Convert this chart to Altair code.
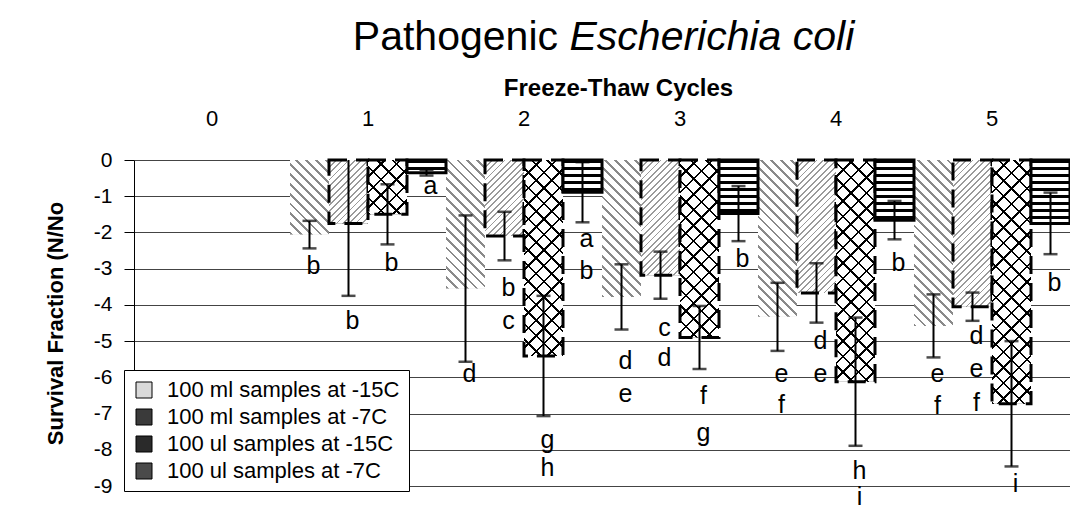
import math
import altair as alt
import pandas as pd

# ---------------- data ----------------
all_cycles = ["0", "1", "2", "3", "4", "5"]
cycles = ["1", "2", "3", "4", "5"]
series_names = [
    "100 ml samples at -15C",
    "100 ml samples at -7C",
    "100 ul samples at -15C",
    "100 ul samples at -7C",
]
mean_ml_15 = [-2.06, -3.55, -3.78, -4.33, -4.58]
err_ml_15 = [0.38, 2.02, 0.90, 0.94, 0.87]
mean_ml_7 = [-1.75, -2.10, -3.18, -3.67, -4.05]
err_ml_7 = [2.00, 0.67, 0.65, 0.82, 0.39]
mean_ul_15 = [-1.50, -5.41, -4.90, -6.12, -6.73]
err_ul_15 = [0.83, 1.66, 0.87, 1.77, 1.73]
mean_ul_7 = [-0.35, -0.89, -1.48, -1.66, -1.75]
err_ul_7 = [0.08, 0.83, 0.76, 0.53, 0.85]

# significance letters: cycle, series index, letter, vertical value
lab_cycle = ["1", "1", "1", "1",
             "2", "2", "2", "2", "2", "2", "2",
             "3", "3", "3", "3", "3", "3", "3",
             "4", "4", "4", "4", "4", "4", "4",
             "5", "5", "5", "5", "5", "5", "5"]
lab_series = [0, 1, 2, 3,
              0, 1, 1, 2, 2, 3, 3,
              0, 0, 1, 1, 2, 2, 3,
              0, 0, 1, 1, 2, 2, 3,
              0, 0, 1, 1, 1, 2, 3]
lab_text = ["b", "b", "b", "a",
            "d", "b", "c", "g", "h", "a", "b",
            "d", "e", "c", "d", "f", "g", "b",
            "e", "f", "d", "e", "h", "i", "b",
            "e", "f", "d", "e", "f", "i", "b"]
lab_y = [-2.93, -4.45, -2.83, -0.72,
         -5.92, -3.52, -4.45, -7.72, -8.49, -2.19, -3.06,
         -5.55, -6.47, -4.63, -5.46, -6.52, -7.53, -2.74,
         -5.92, -6.75, -5.00, -5.92, -8.59, -9.30, -2.83,
         -5.92, -6.80, -4.86, -5.78, -6.70, -8.95, -3.39]

title_plain = "Pathogenic"
title_italic = "Escherichia coli"
x_title = "Freeze-Thaw Cycles"
y_title = "Survival Fraction (N/No"

# ---------------- tables ----------------
means = [mean_ml_15, mean_ml_7, mean_ul_15, mean_ul_7]
errs = [err_ml_15, err_ml_7, err_ul_15, err_ul_7]
rows = []
for s, name in enumerate(series_names):
    for i, c in enumerate(cycles):
        m, e = means[s][i], errs[s][i]
        rows.append({"cycle": c, "series": name, "val": m, "lo": m - e, "hi": m + e})
df = pd.DataFrame(rows)

df_lab = pd.DataFrame({
    "cycle": lab_cycle,
    "series": [series_names[k] for k in lab_series],
    "letter": lab_text,
    "ly": lab_y,
})

# ---------------- geometry / style ----------------
PW, PH = 936, 326
BAR_W = PW / 6 / 4
HPU = PH / 9.0
FONT = "Liberation Sans, Arial"


def grad_expr(kind, S, lw, line, bg, hmax):
    h = f"(abs(datum.val)*{HPU:.5f})"
    if kind == "h":
        N = math.ceil((hmax + 4) / S)
        L = N * S
        coords = f"x1:0,y1:0,x2:0.000001,y2:{L:.3f}/{h}"
    else:
        P = S * math.sqrt(2)
        N = math.ceil((BAR_W + hmax + 4) / P)
        L = N * P
        den = f"({BAR_W * BAR_W:.2f}+{h}*{h})"
        if kind == "/":
            coords = f"x1:0,y1:0,x2:{BAR_W * L:.3f}/{den},y2:{h}*{L:.3f}/{den}"
        else:
            coords = f"x1:0,y1:1,x2:{BAR_W * L:.3f}/{den},y2:1-{h}*{L:.3f}/{den}"
    fr = lw / S
    stops = []
    for i in range(N):
        a, b, c = i / N, (i + fr) / N, (i + 1) / N
        stops += [(a, line), (b, line), (b, bg), (c, bg)]
    st = ",".join("{offset:%.5f,color:'%s'}" % (o, col) for o, col in stops)
    return "{gradient:'linear'," + coords + ",stops:[" + st + "]}"


def hmax_of(s):
    return max(abs(v) for v in means[s]) * HPU


X = alt.X(
    "cycle:N",
    scale=alt.Scale(domain=all_cycles, paddingInner=0, paddingOuter=0),
    title=x_title,
    axis=alt.Axis(orient="top", labelAngle=0, ticks=False, domain=False, grid=False,
                  labelFont=FONT, labelFontSize=22, labelColor="black", labelPadding=30,
                  titleFont=FONT, titleFontSize=24, titleFontWeight="bold", titleColor="black",
                  titlePadding=7, titleX=484),
)
XO = alt.XOffset("series:N", scale=alt.Scale(domain=series_names, paddingInner=0, paddingOuter=0))
yaxis = alt.Axis(values=list(range(-9, 1)), orient="left", domain=True, domainColor="black",
                 domainWidth=1, ticks=True, tickSize=10, tickColor="black", grid=True,
                 gridColor="#444444", gridWidth=1, labelFont=FONT, labelFontSize=21,
                 labelColor="black", labelPadding=12,
                 labelExpr="datum.value == 0 ? '0' : '-' + format(abs(datum.value), 'd')",
                 titleFont=FONT, titleFontSize=22, titleFontWeight="bold", titleColor="black",
                 titlePadding=26)
yscale = alt.Scale(domain=[-9, 0], nice=False, zero=False)


def Yf(field):
    return alt.Y(field, scale=yscale, axis=yaxis, title=y_title, stack=None)


base = alt.Chart(df)

legend_layer = base.mark_bar().encode(
    x=X, xOffset=XO, y=Yf("val:Q"),
    fill=alt.Fill("series:N",
                  scale=alt.Scale(domain=series_names,
                                  range=["#d9d9d9", "#3a3a3a", "#2a2a2a", "#4a4a4a"]),
                  legend=alt.Legend(title=None, orient="none", legendX=-10, legendY=210,
                                    direction="vertical", symbolType="square", symbolSize=256,
                                    symbolStrokeColor="black", symbolStrokeWidth=1,
                                    labelFont=FONT, labelFontSize=22, labelColor="black",
                                    labelOffset=12, labelLimit=400, rowPadding=5, padding=9,
                                    fillColor="white", strokeColor="black", zindex=1)),
)


def pattern(s, expr, **kw):
    return base.transform_filter(alt.datum.series == series_names[s]).mark_bar(
        fill=alt.ExprRef(expr=expr), **kw
    ).encode(x=X, xOffset=XO, y=Yf("val:Q"))


p1 = pattern(0, grad_expr("\\", 7, 2.0, "#8a8a8a", "#ffffff", hmax_of(0)), strokeWidth=0)
p2 = pattern(1, grad_expr("/", 4.5, 1.3, "#9a9a9a", "#ffffff", hmax_of(1)),
             stroke="black", strokeWidth=3, strokeDash=[18, 9])
p3a = pattern(2, grad_expr("\\", 11, 1.8, "#000000", "#ffffff", hmax_of(2)), strokeWidth=0)
p3b = pattern(2, grad_expr("/", 11, 1.8, "#000000", "rgba(0,0,0,0)", hmax_of(2)),
              stroke="black", strokeWidth=3, strokeDash=[18, 9])
p4 = pattern(3, grad_expr("h", 7, 2.8, "#000000", "#ffffff", hmax_of(3)),
             stroke="black", strokeWidth=3)

err_rule = base.mark_rule(color="black", strokeWidth=2, clip=True).encode(
    x=X, xOffset=XO, y=Yf("lo:Q"), y2="hi:Q")
cap_lo = base.mark_tick(color="black", thickness=2.5, size=14, clip=True).encode(
    x=X, xOffset=XO, y=Yf("lo:Q"))
cap_hi = base.mark_tick(color="black", thickness=2.5, size=14, clip=True).encode(
    x=X, xOffset=XO, y=Yf("hi:Q"))

letters = alt.Chart(df_lab).mark_text(font=FONT, fontSize=25, color="black",
                                      baseline="middle", align="center", dx=4).encode(
    x=X, xOffset=XO, y=Yf("ly:Q"), text="letter:N")

t1 = alt.Chart(pd.DataFrame({"t": [title_plain]})).mark_text(
    font=FONT, fontSize=41, color="black", align="right", baseline="alphabetic").encode(
    text="t:N", x=alt.value(424), y=alt.value(-110))
t2 = alt.Chart(pd.DataFrame({"t": [title_italic]})).mark_text(
    font=FONT, fontSize=41, fontStyle="italic", color="black", align="left",
    baseline="alphabetic").encode(text="t:N", x=alt.value(435.5), y=alt.value(-110))

chart = alt.layer(legend_layer, p1, p2, p3a, p3b, p4, err_rule, cap_lo, cap_hi, letters, t1, t2
                  ).properties(
    width=PW, height=PH,
    autosize=alt.AutoSizeParams(type="none"),
    padding={"left": 126, "top": 152, "right": 0, "bottom": 25},
    background="white",
).configure_view(stroke=None)

chart.save("out.html", embed_options={"renderer": "svg", "actions": False})
